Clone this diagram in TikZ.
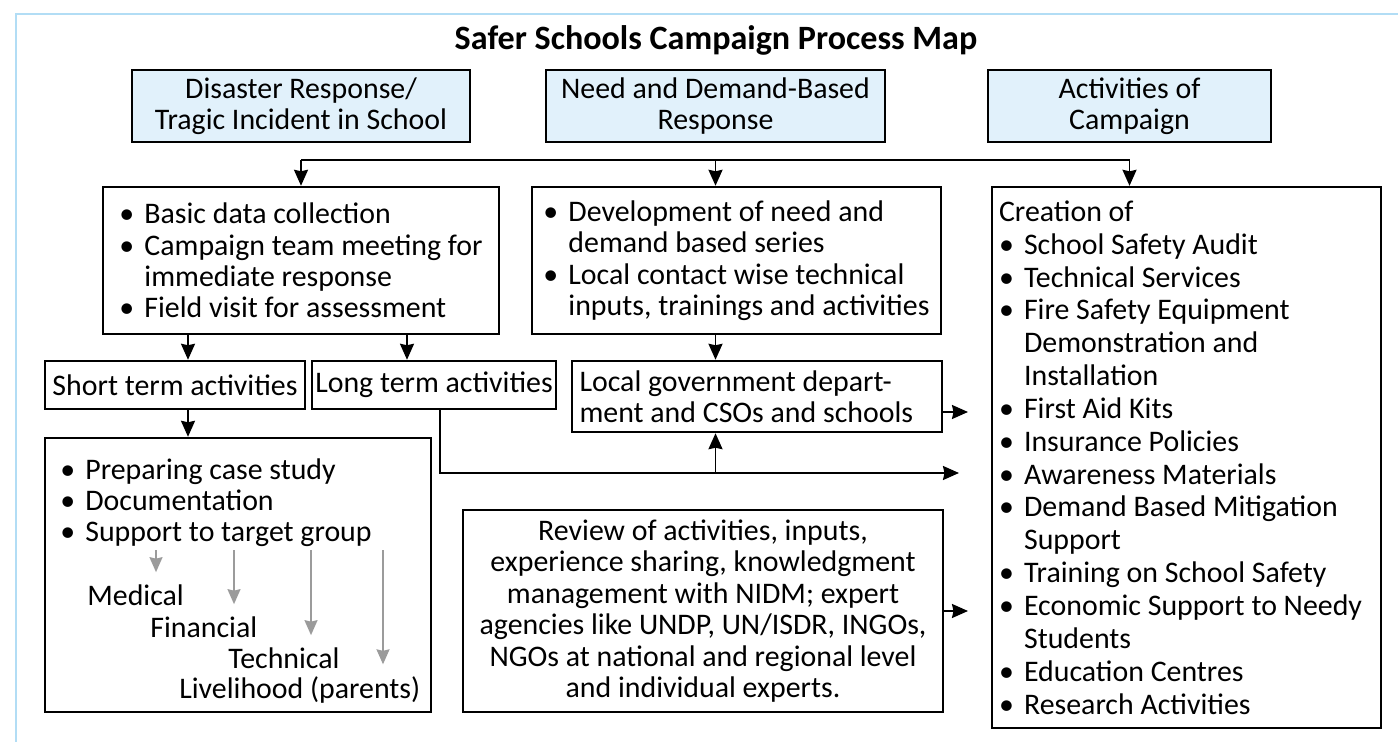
\documentclass[tikz,border=0pt]{standalone}
\usepackage{fontspec}
\setmainfont{Carlito}
\usetikzlibrary{arrows.meta}
\definecolor{frameblue}{RGB}{178,221,245}
\definecolor{headblue}{RGB}{225,241,251}
\definecolor{arrowgrey}{RGB}{155,155,155}
\newcommand\bodyfont{\fontsize{17}{17.9}\selectfont}
\newcommand\bulit{\makebox[0.5cm][l]{\textbullet}}
\newcommand\indnt{\hspace*{0.5cm}}
\tikzset{
  box/.style = {draw, line width=1.4pt, inner sep=0pt, font=\bodyfont},
  headbox/.style = {box, fill=headblue, align=center, minimum height=1.44cm},
  listbox/.style = {box, align=flush left},
  plain/.style = {inner sep=0pt, font=\bodyfont, align=flush left},
  arr/.style = {line width=1.1pt, -{Stealth[length=0.32cm,width=0.28cm,inset=0.03cm]}},
  greyarr/.style = {arrowgrey, line width=1pt, -{Stealth[length=0.3cm,width=0.26cm,inset=0.03cm]}, shorten >=0.24cm}
}

\begin{document}
\begin{tikzpicture}[x=0.02cm, y=-0.02cm]
\useasboundingbox (0,0) rectangle (1398,742);
\draw[frameblue, line width=1.2pt] (16,742) -- (16,14) -- (1400,14);

\node[font=\fontsize{19.4}{22}\selectfont\bfseries] (title) at (716,40) {Safer Schools Campaign Process Map};

% top row
\node[headbox, minimum width=6.76cm] (disaster) at (301,106) {Disaster Response/\\Tragic Incident in School};
\node[headbox, minimum width=6.78cm] (need) at (715.5,106) {Need and Demand-Based\\Response};
\node[headbox, minimum width=5.66cm] (activ) at (1129.5,106) {Activities of\\Campaign};

% second row
\node[listbox, minimum width=7.92cm, minimum height=2.94cm] (basic) at (301,260.5)
  {\bulit Basic data collection\\
   \bulit Campaign team meeting for\\
   \indnt immediate response\\
   \bulit Field visit for assessment};
\node[listbox, minimum width=8.18cm, minimum height=2.94cm] (develop) at (736.5,260.5)
  {\bulit Development of need and\\
   \indnt demand based series\\
   \bulit Local contact wise technical\\
   \indnt inputs, trainings and activities};
\node[listbox, minimum width=7.78cm, minimum height=10.82cm, text width=7.5cm, inner xsep=0.14cm,
      font=\fontsize{17}{18.7}\selectfont] (creation) at (1186.5,457.5)
  {Creation of\\
   \bulit School Safety Audit\\
   \bulit Technical Services\\
   \bulit Fire Safety Equipment\\
   \indnt Demonstration and\\
   \indnt Installation\\
   \bulit First Aid Kits\\
   \bulit Insurance Policies\\
   \bulit Awareness Materials\\
   \bulit Demand Based Mitigation\\
   \indnt Support\\
   \bulit Training on School Safety\\
   \bulit Economic Support to Needy\\
   \indnt Students\\
   \bulit Education Centres\\
   \bulit Research Activities};

% third row
\node[box, minimum width=5.2cm, minimum height=0.96cm] (short) at (175,385) {Short term activities};
\node[box, minimum width=4.88cm, minimum height=0.96cm] (long) at (434,385) {Long term activities};
\node[listbox, minimum width=7.4cm, minimum height=1.42cm, text width=7.1cm, inner xsep=0.15cm] (localgov) at (757,396.5)
  {Local government depart-\\ment and CSOs and schools};

% support box
\node[box, minimum width=7.72cm, minimum height=5.48cm] (support) at (238,575) {};
\node[plain, anchor=north west] (supplist) at (60,458)
  {\bulit Preparing case study\\
   \bulit Documentation\\
   \bulit Support to target group};
\node[plain, anchor=west] (med) at (87,595) {Medical};
\node[plain, anchor=west] (fin) at (150,627) {Financial};
\node[plain, anchor=west] (tech) at (228,658) {Technical};
\node[plain, anchor=west] (live) at (179,690) {Livelihood (parents)};

\node[box, align=center, minimum width=9.6cm, minimum height=4.04cm] (review) at (703,611)
  {Review of activities, inputs,\\
   experience sharing, knowledgment\\
   management with NIDM; expert\\
   agencies like UNDP, UN/ISDR, INGOs,\\
   NGOs at national and regional level\\
   and individual experts.};

% connectors
\coordinate (bar) at (0,160);
\draw[line width=1.1pt] (disaster.south |- bar) -- (activ.south |- bar);
\foreach \top/\low in {disaster/basic, need/develop, activ/creation}
  \draw[arr] (\top.south |- bar) -- (\top.south |- \low.north);

\draw[arr] (188,0 |- basic.south) -- (188,0 |- short.north);
\draw[arr] (407,0 |- basic.south) -- (407,0 |- long.north);
\draw[arr] (188,0 |- short.south) -- (188,0 |- support.north);
\draw[arr] (need.south |- develop.south) -- (need.south |- localgov.north);

\coordinate (lgout) at (968,412);
\draw[arr] (localgov.east |- lgout) -- (lgout);

\coordinate (join) at (440,473);
\coordinate (joinend) at (959,473);
\draw[arr] (join |- long.south) -- (join) -- (joinend);
\draw[arr] (need.south |- join) -- (need.south |- localgov.south);

\coordinate (rvout) at (968,611);
\draw[arr] (review.east) -- (rvout);

\foreach \x/\lab in {156/med, 234/fin, 311/tech, 383/live}
  \draw[greyarr] (\x,550) -- (\x,0 |- \lab.north);
\end{tikzpicture}
\end{document}
